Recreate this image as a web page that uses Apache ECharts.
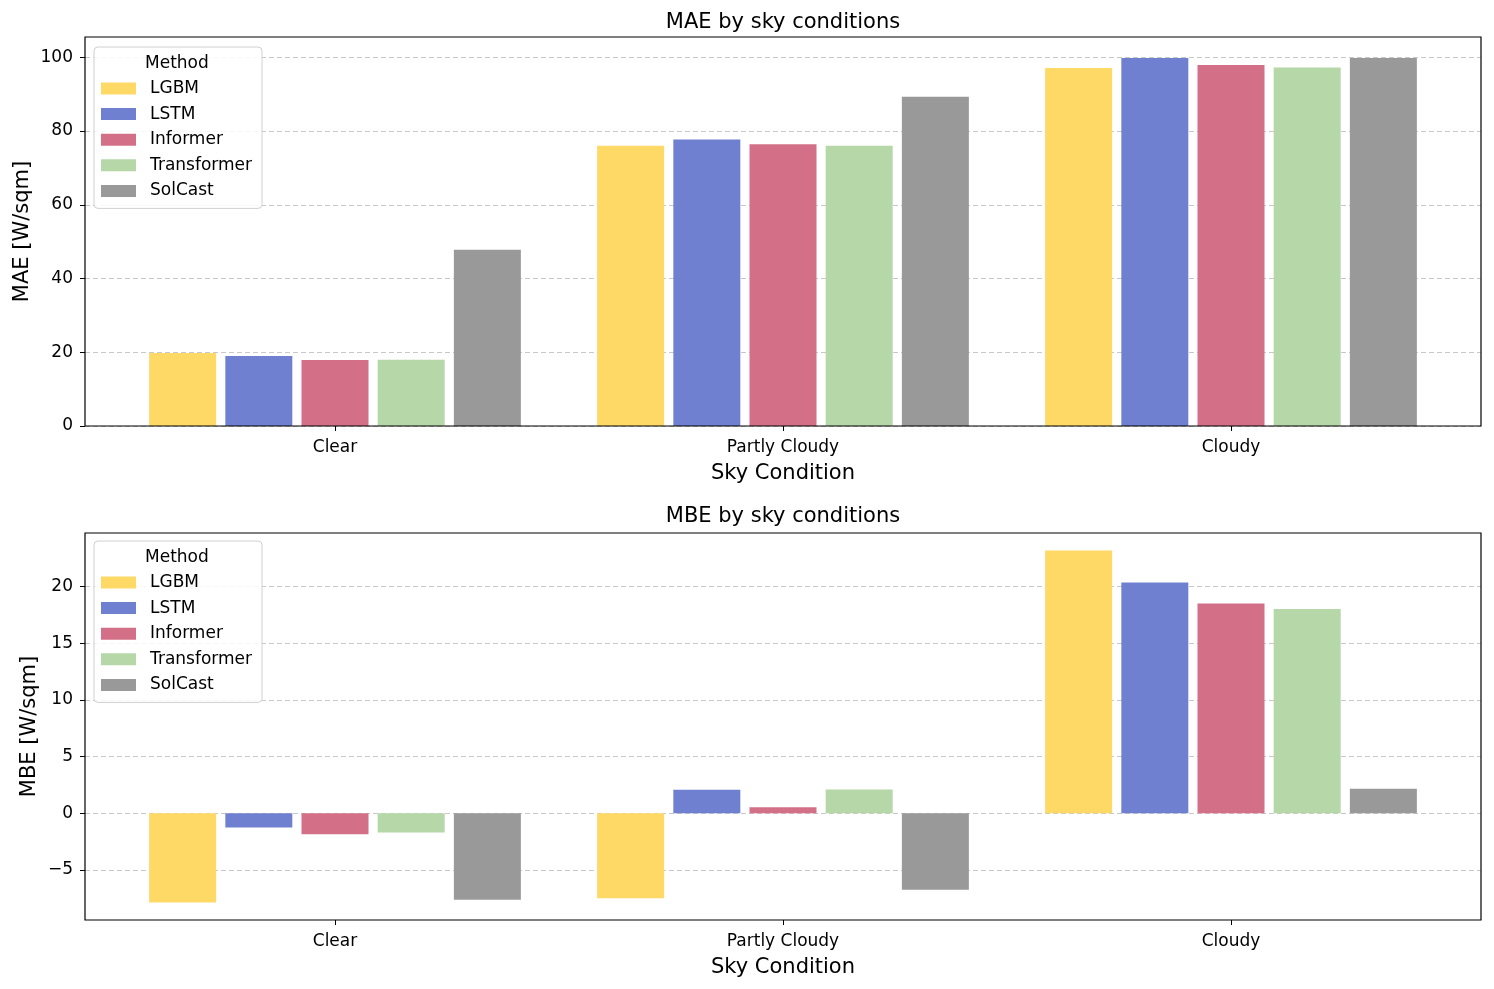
<!DOCTYPE html>
<html>
<head>
<meta charset="utf-8">
<script src="https://cdn.jsdelivr.net/npm/echarts@6/dist/echarts.min.js"></script>
<style>
html,body{margin:0;padding:0;background:#fff;}
#chart{width:1494px;height:989px;}
</style>
</head>
<body>
<div id="chart"></div>
<script>
const categories = ['Clear', 'Partly Cloudy', 'Cloudy'];
const methods = ['LGBM', 'LSTM', 'Informer', 'Transformer', 'SolCast'];
const colors = ['#FED966', '#7080D0', '#D46F88', '#B6D7A8', '#999999'];

const maeLGBM = [19.8, 76.0, 97.1];
const maeLSTM = [19.0, 77.7, 99.8];
const maeInformer = [17.9, 76.4, 97.9];
const maeTransformer = [18.0, 76.0, 97.2];
const maeSolCast = [47.8, 89.3, 99.8];

const mbeLGBM = [-7.88, -7.50, 23.18];
const mbeLSTM = [-1.26, 2.07, 20.36];
const mbeInformer = [-1.85, 0.53, 18.50];
const mbeTransformer = [-1.70, 2.09, 18.03];
const mbeSolCast = [-7.65, -6.76, 2.15];

const maeTicks = [0, 20, 40, 60, 80, 100];
const mbeTicks = [-5, 0, 5, 10, 15, 20];
const maeRange = [0, 105.5];
const mbeRange = [-9.43, 24.73];

const maeData = [maeLGBM, maeLSTM, maeInformer, maeTransformer, maeSolCast];
const mbeData = [mbeLGBM, mbeLSTM, mbeInformer, mbeTransformer, mbeSolCast];

const FONT = 'DejaVu Sans';
const chart = echarts.init(document.getElementById('chart'), null, {renderer: 'canvas'});

function frameY(gridIndex, range, ticks, name, gap) {
  return {
    type: 'value', gridIndex: gridIndex, min: range[0], max: range[1],
    name: name, nameLocation: 'middle', nameGap: gap, nameRotate: 90, nameMoveOverlap: false,
    nameTextStyle: {fontFamily: FONT, fontSize: 21, color: '#000'},
    axisLine: {show: false},
    axisTick: {show: true, inside: false, length: 5, lineStyle: {color: '#000', width: 1}, customValues: ticks},
    axisLabel: {fontFamily: FONT, fontSize: 17, color: '#000', margin: 12, customValues: ticks,
      formatter: function (v) { return v < 0 ? '\u2212' + Math.abs(v) : String(v); }},
    splitLine: {show: true, lineStyle: {color: '#c8c8c8', type: [5, 3], width: 1}}
  };
}
function dataY(gridIndex, range) {
  return {type: 'value', gridIndex: gridIndex, min: range[0], max: range[1], show: false,
    splitLine: {show: false}};
}
function frameX(gridIndex) {
  return {type: 'value', gridIndex: gridIndex, min: 0, max: 1, show: false, splitLine: {show: false}};
}
function dataX(gridIndex) {
  return {
    type: 'category', gridIndex: gridIndex, data: categories, position: 'bottom',
    name: 'Sky Condition', nameLocation: 'middle', nameGap: 37,
    nameTextStyle: {fontFamily: FONT, fontSize: 21, color: '#000'},
    axisLine: {show: false, onZero: false},
    axisTick: {show: true, alignWithLabel: true, length: 5, lineStyle: {color: '#000', width: 1}},
    axisLabel: {fontFamily: FONT, fontSize: 17, color: '#000', margin: 13},
    splitLine: {show: false}
  };
}

const series = [];
methods.forEach(function (m, i) {
  series.push({
    name: m, type: 'bar', xAxisIndex: 1, yAxisIndex: 1, data: maeData[i],
    barWidth: 67, barGap: '13.7%', itemStyle: {color: colors[i]}, z: 3
  });
});
methods.forEach(function (m, i) {
  series.push({
    name: m, type: 'bar', xAxisIndex: 3, yAxisIndex: 3, data: mbeData[i],
    barWidth: 67, barGap: '13.7%', itemStyle: {color: colors[i]}, z: 3
  });
});

function legend(top) {
  return {
    data: methods, orient: 'vertical', left: 94, top: top,
    padding: [33, 10, 9, 7], itemGap: 8.6, itemWidth: 35, itemHeight: 12,
    icon: 'rect',
    backgroundColor: 'rgba(255,255,255,0.85)', borderColor: '#d0d0d0', borderWidth: 1, borderRadius: 4,
    textStyle: {fontFamily: FONT, fontSize: 17, color: '#000', lineHeight: 17, padding: [0, 0, 0, 9]}
  };
}

const option = {
  backgroundColor: '#fff',
  animation: false,
  title: [
    {text: 'MAE by sky conditions', left: 783, textAlign: 'center', top: 12, padding: 0,
      textStyle: {fontFamily: FONT, fontSize: 21, fontWeight: 'normal', color: '#000'}},
    {text: 'MBE by sky conditions', left: 783, textAlign: 'center', top: 506, padding: 0,
      textStyle: {fontFamily: FONT, fontSize: 21, fontWeight: 'normal', color: '#000'}}
  ],
  legend: [legend(47), legend(541)],
  graphic: [
    {type: 'text', left: 178 - 33, top: 55, z: 100,
      style: {text: 'Method', font: '17px "DejaVu Sans"', fill: '#000'}},
    {type: 'text', left: 178 - 33, top: 549, z: 100,
      style: {text: 'Method', font: '17px "DejaVu Sans"', fill: '#000'}}
  ],
  grid: [
    {left: 85, right: 13, top: 37, height: 389, show: true, borderColor: '#000', borderWidth: 1.2, backgroundColor: 'transparent', z: 4},
    {left: 111, right: 39, top: 37, height: 389},
    {left: 85, right: 13, top: 533, height: 387, show: true, borderColor: '#000', borderWidth: 1.2, backgroundColor: 'transparent', z: 4},
    {left: 111, right: 39, top: 533, height: 387}
  ],
  xAxis: [frameX(0), dataX(1), frameX(2), dataX(3)],
  yAxis: [
    frameY(0, maeRange, maeTicks, 'MAE [W/sqm]', 52),
    dataY(1, maeRange),
    frameY(2, mbeRange, mbeTicks, 'MBE [W/sqm]', 45),
    dataY(3, mbeRange)
  ],
  series: series
};
chart.setOption(option);
</script>
</body>
</html>
